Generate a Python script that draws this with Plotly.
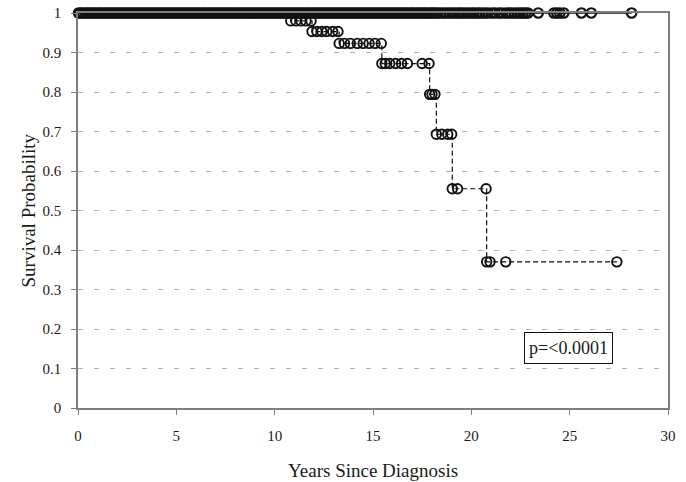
import numpy as np
import plotly.graph_objects as go

# Group without events: censored follow-up times (years), survival stays at 1
group_a_times = [
    0.03, 0.14, 0.24, 0.36, 0.47, 0.57, 0.69, 0.8, 0.9, 1.02, 1.13, 1.23, 1.35, 1.46, 1.56,
    1.68, 1.79, 1.89, 2.01, 2.12, 2.22, 2.34, 2.45, 2.55, 2.67, 2.78, 2.88, 3.0, 3.11, 3.21,
    3.33, 3.44, 3.54, 3.66, 3.77, 3.87, 3.99, 4.1, 4.2, 4.32, 4.43, 4.53, 4.65, 4.76, 4.86,
    4.98, 5.09, 5.19, 5.31, 5.42, 5.52, 5.64, 5.75, 5.85, 5.97, 6.08, 6.18, 6.3, 6.41, 6.51,
    6.63, 6.74, 6.84, 6.96, 7.07, 7.17, 7.29, 7.4, 7.5, 7.62, 7.73, 7.83, 7.95, 8.06, 8.16,
    8.28, 8.39, 8.49, 8.61, 8.72, 8.82, 8.94, 9.05, 9.15, 9.27, 9.38, 9.48, 9.6, 9.71, 9.81,
    9.93, 10.04, 10.14, 10.26, 10.37, 10.47, 10.59, 10.7, 10.8, 10.92, 11.03, 11.13, 11.25,
    11.36, 11.46, 11.58, 11.69, 11.79, 11.91, 12.02, 12.12, 12.24, 12.35, 12.45, 12.57, 12.68,
    12.78, 12.9, 13.01, 13.11, 13.23, 13.34, 13.44, 13.56, 13.67, 13.77, 13.89, 14.0, 14.1,
    14.22, 14.33, 14.43, 14.55, 14.66, 14.76, 14.88, 14.99, 15.09, 15.21, 15.32, 15.42, 15.54,
    15.65, 15.75, 15.87, 15.98, 16.08, 16.2, 16.31, 16.41, 16.53, 16.64, 16.74, 16.86, 16.97,
    17.07, 17.19, 17.3, 17.4, 17.52, 17.63, 17.73, 17.85, 17.96, 18.06, 18.18, 18.3, 18.45,
    18.6, 18.72, 18.88, 19.02, 19.15, 19.3, 19.44, 19.56, 19.72, 19.85, 20.0, 20.12, 20.28,
    20.4, 20.55, 20.7, 20.85, 21.05, 21.2, 21.4, 21.55, 21.75, 21.9, 22.05, 22.2, 22.35,
    22.48, 22.62, 22.75, 22.88, 23.4, 24.2, 24.35, 24.5, 24.7, 25.6, 26.1, 28.15,
]

# Group with events: event times and Kaplan-Meier survival after each event
event_times = [10.82, 11.9, 13.28, 15.45, 17.88, 18.22, 19.03, 20.78]
event_surv = [0.980, 0.953, 0.923, 0.872, 0.794, 0.693, 0.555, 0.370]
group_b_last = 27.4

# Marked observation times for the event group (events and censorings)
group_b_marks = [
    10.82, 11.08, 11.34, 11.59, 11.85,
    11.9, 12.15, 12.4, 12.65, 12.95, 13.22,
    13.28, 13.55, 13.85, 14.2, 14.5, 14.8, 15.1, 15.42,
    15.45, 15.62, 15.85, 16.15, 16.45, 16.75, 17.5, 17.85,
    17.88, 18.0, 18.15,
    18.22, 18.5, 18.8, 19.0,
    19.03, 19.3, 20.75,
    20.78, 20.95, 21.75, 27.4,
]

p_text = "p=<0.0001"

ev_t = np.array(event_times)
ev_s = np.array(event_surv)


def survival_at(t):
    idx = np.searchsorted(ev_t, t, side="right")
    return 1.0 if idx == 0 else float(ev_s[idx - 1])


# Step path for the event group
step_x = [0.0] + list(event_times) + [group_b_last]
step_y = [1.0] + list(event_surv) + [event_surv[-1]]

serif = "Liberation Serif, Times New Roman, serif"
ink = "#111111"
marker_style = dict(symbol="circle-open", size=9.5, color=ink, line=dict(width=1.9, color=ink))

fig = go.Figure()

# No-event group: flat solid line with censoring marks
fig.add_trace(go.Scatter(
    x=[0.0, max(group_a_times)], y=[1.0, 1.0], mode="lines",
    line=dict(color=ink, width=1.3), showlegend=False, cliponaxis=False, hoverinfo="skip",
))
fig.add_trace(go.Scatter(
    x=group_a_times, y=[1.0] * len(group_a_times), mode="markers",
    marker=dict(symbol="circle-open", size=9.5, color=ink, line=dict(width=2.2, color=ink)),
    showlegend=False, cliponaxis=False,
))

# Event group: dashed step curve with marks
fig.add_trace(go.Scatter(
    x=step_x, y=step_y, mode="lines", line_shape="hv",
    line=dict(color=ink, width=1.2, dash="5px,3px"),
    showlegend=False, cliponaxis=False, hoverinfo="skip",
))
fig.add_trace(go.Scatter(
    x=group_b_marks, y=[survival_at(t) for t in group_b_marks], mode="markers",
    marker=marker_style, showlegend=False, cliponaxis=False,
))

axis_common = dict(
    showline=True, linecolor="#7f7f7f", linewidth=1.5, mirror=True,
    ticks="outside", ticklen=5, tickwidth=1, tickcolor="#7f7f7f",
    tickfont=dict(family=serif, size=15, color="#1a1a1a"), zeroline=False,
    automargin=False,
)

fig.update_layout(
    width=686, height=482,
    margin=dict(l=78, r=18, t=13, b=74, autoexpand=False),
    paper_bgcolor="white", plot_bgcolor="white",
    xaxis=dict(range=[0, 30], tick0=0, dtick=5, showgrid=False, ticklabelstandoff=8,
               **axis_common),
    yaxis=dict(range=[0, 1], tick0=0, dtick=0.1, showgrid=True, gridcolor="#b0b0b0",
               gridwidth=1, griddash="5px,11px", ticklabelstandoff=7, **axis_common),
    font=dict(family=serif, color="#1a1a1a"),
    annotations=[
        dict(text="Years Since Diagnosis", xref="paper", yref="paper", x=0.5, y=0,
             yshift=-62, xanchor="center", yanchor="middle", showarrow=False,
             font=dict(family=serif, size=19, color="#1a1a1a")),
        dict(text="Survival Probability", xref="paper", yref="paper", x=0, y=0.5,
             xshift=-50, textangle=-90, xanchor="center", yanchor="middle", showarrow=False,
             font=dict(family=serif, size=19, color="#1a1a1a")),
        dict(text=p_text, xref="x", yref="y", x=24.95, y=0.152, showarrow=False,
             xanchor="center", yanchor="middle", width=81, height=24, borderpad=3,
             bordercolor=ink, borderwidth=1, bgcolor="white",
             font=dict(family=serif, size=18, color="#1a1a1a")),
    ],
)

fig.write_html("out.html")
